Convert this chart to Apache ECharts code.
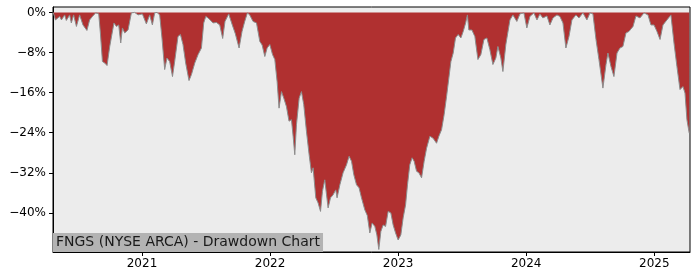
<!DOCTYPE html>
<html>
<head>
<meta charset="utf-8">
<script src="https://cdn.jsdelivr.net/npm/echarts@6/dist/echarts.min.js"></script>
<style>
html,body{margin:0;padding:0;background:#fff;}
#chart{width:700px;height:280px;}
</style>
</head>
<body>
<div id="chart"></div>
<script>
// time in decimal years
var years = [
2020.305,2020.313,2020.324,2020.336,2020.357,2020.371,2020.396,2020.409,2020.435,2020.448,
2020.466,2020.488,2020.513,2020.539,2020.570,2020.591,2020.613,2020.638,2020.662,2020.675,
2020.691,2020.709,2020.727,2020.748,2020.781,2020.800,2020.818,2020.834,2020.847,2020.865,
2020.891,2020.917,2020.943,2020.969,2021.003,2021.034,2021.060,2021.081,2021.099,2021.117,
2021.138,2021.156,2021.177,2021.195,2021.216,2021.238,2021.255,2021.281,2021.300,2021.320,
2021.341,2021.367,2021.386,2021.412,2021.438,2021.464,2021.482,2021.498,2021.516,2021.529,
2021.555,2021.581,2021.607,2021.630,2021.648,2021.677,2021.705,2021.728,2021.758,2021.781,
2021.802,2021.823,2021.841,2021.867,2021.894,2021.920,2021.938,2021.959,2021.977,2021.998,
2022.019,2022.037,2022.055,2022.070,2022.089,2022.107,2022.128,2022.148,2022.167,2022.180,
2022.193,2022.206,2022.227,2022.245,2022.263,2022.284,2022.305,2022.323,2022.336,2022.357,
2022.375,2022.394,2022.409,2022.427,2022.441,2022.453,2022.472,2022.492,2022.513,2022.523,
2022.545,2022.570,2022.597,2022.617,2022.636,2022.654,2022.675,2022.695,2022.714,2022.740,
2022.759,2022.779,2022.797,2022.818,2022.834,2022.849,2022.865,2022.883,2022.902,2022.922,
2022.943,2022.961,2022.980,2023.000,2023.021,2023.039,2023.058,2023.073,2023.091,2023.109,
2023.125,2023.144,2023.162,2023.183,2023.203,2023.222,2023.248,2023.273,2023.300,2023.318,
2023.339,2023.359,2023.378,2023.396,2023.412,2023.430,2023.448,2023.469,2023.490,2023.508,
2023.527,2023.541,2023.552,2023.576,2023.599,2023.623,2023.646,2023.670,2023.693,2023.716,
2023.740,2023.763,2023.779,2023.802,2023.818,2023.841,2023.873,2023.896,2023.927,2023.951,
2023.982,2024.005,2024.029,2024.060,2024.084,2024.107,2024.130,2024.162,2024.185,2024.209,
2024.240,2024.263,2024.287,2024.310,2024.334,2024.357,2024.388,2024.412,2024.443,2024.474,
2024.498,2024.521,2024.545,2024.568,2024.599,2024.623,2024.638,2024.662,2024.685,2024.709,
2024.732,2024.755,2024.779,2024.802,2024.834,2024.857,2024.888,2024.920,2024.951,2024.974,
2024.998,2025.021,2025.045,2025.068,2025.099,2025.130,2025.154,2025.177,2025.201,2025.224,
2025.240,2025.255,2025.273
];
// drawdown in %
var drawdown = [
0,-0.5,-1.5,-1.8,-0.8,-1.5,-0.5,-1.6,-0.5,-2.1,
-0.5,-2.8,-0.5,-2.5,-3.6,-1.5,-0.8,-0.1,-0.3,-4.1,
-9.8,-10.1,-10.6,-6.8,-2.1,-2.8,-2.5,-6.1,-3.1,-4.1,
-3.5,-0.1,0,-0.5,-0.3,-2.3,-0.5,-2.5,-0.1,0,
-0.5,-5.1,-11.4,-9.1,-9.8,-12.8,-9.8,-4.8,-4.4,-6.4,
-10.1,-13.6,-12.4,-10.1,-8.4,-7.1,-2.1,-0.8,-1.1,-0.8,
-2.1,-2.0,-2.5,-5.2,-1.8,-0.3,-2.5,-4.2,-7.1,-3.8,
-1.8,-0.1,-0.5,-1.8,-2.1,-5.8,-6.5,-8.8,-7.1,-6.4,
-8.4,-9.4,-13.8,-19.1,-15.8,-17.1,-18.8,-21.7,-21.4,-24.7,
-28.4,-22.4,-17.1,-15.8,-18.4,-23.7,-28.4,-32.0,-31.0,-37.0,
-38.0,-39.7,-35.7,-33.4,-36.4,-39.0,-37.0,-36.4,-35.4,-37.0,
-34.4,-32.0,-30.4,-28.7,-29.7,-32.4,-34.4,-35.0,-37.0,-39.4,
-40.5,-44.0,-42.0,-42.7,-44.4,-47.3,-43.7,-42.4,-42.7,-39.7,
-40.0,-42.4,-44.0,-45.4,-44.4,-41.0,-38.4,-34.4,-30.4,-29.0,
-29.7,-31.7,-32.0,-33.0,-29.7,-27.1,-24.7,-25.1,-26.1,-24.7,
-23.4,-20.4,-16.8,-13.1,-9.8,-8.1,-5.1,-4.4,-5.1,-3.8,
-2.1,-0.5,-3.5,-3.5,-4.8,-9.4,-8.4,-5.4,-5.1,-7.4,
-10.4,-9.1,-6.8,-9.1,-11.8,-6.4,-1.5,-0.5,-1.8,-0.3,
-0.1,-3.1,-0.8,-0.1,-1.5,-0.3,-1.1,-0.7,-2.5,-1.1,
-0.5,-0.8,-2.1,-7.1,-4.8,-1.5,-0.5,-1.1,-0.1,-1.5,
-0.1,-0.3,-5.4,-9.4,-15.1,-10.4,-8.1,-10.8,-12.8,-8.1,
-7.1,-6.8,-4.1,-3.8,-2.8,-0.7,-1.1,-0.1,-0.5,-2.5,
-2.5,-3.8,-5.4,-2.5,-1.5,-0.5,-6.1,-10.8,-15.4,-14.8,
-16.1,-21.4,-24.1
];
var yearTicks = [2021, 2022, 2023, 2024, 2025];
var pctTicks = [0, -8, -16, -24, -32, -40];
var titleText = 'FNGS (NYSE ARCA) - Drawdown Chart';

var seriesData = years.map(function (y, i) { return [y, drawdown[i]]; });
var font = 'DejaVu Sans';
var chart = echarts.init(document.getElementById('chart'), null, {renderer: 'canvas'});
chart.setOption({
  animation: false,
  backgroundColor: '#ffffff',
  grid: {
    left: 53, right: 10, top: 7, bottom: 28,
    show: true, backgroundColor: '#ececec', borderColor: '#000', borderWidth: 1
  },
  title: {
    text: titleText,
    left: 53, bottom: 28,
    padding: [2, 3, 2, 3],
    backgroundColor: '#b3b3b3',
    textStyle: {fontFamily: font, fontSize: 14, lineHeight: 15, fontWeight: 'normal', color: '#1a1a1a'}
  },
  xAxis: {
    type: 'value',
    min: 2020.305, max: 2025.279,
    splitLine: {show: false},
    axisLine: {show: true, onZero: false, lineStyle: {color: '#000', width: 1}},
    axisTick: {show: true, length: 4, customValues: yearTicks, lineStyle: {color: '#000'}},
    axisLabel: {customValues: yearTicks, margin: 6, fontFamily: font, fontSize: 12, color: '#000',
      formatter: function (v) { return String(Math.round(v)); }}
  },
  yAxis: {
    type: 'value',
    min: -47.8, max: 1.08,
    splitLine: {show: false},
    axisLine: {show: true, lineStyle: {color: '#000', width: 1}},
    axisTick: {show: true, length: 4, customValues: pctTicks, lineStyle: {color: '#000'}},
    axisLabel: {customValues: pctTicks, margin: 7, fontFamily: font, fontSize: 12, color: '#000',
      formatter: function (v) { return (v < 0 ? '\u2212' : '') + Math.abs(Math.round(v)) + '%'; }}
  },
  series: [{
    type: 'line',
    data: seriesData,
    showSymbol: false,
    symbol: 'none',
    lineStyle: {color: '#8c8c8c', width: 1},
    areaStyle: {color: '#b03030', opacity: 1, origin: 0},
    z: 2
  }]
});
</script>
</body>
</html>
